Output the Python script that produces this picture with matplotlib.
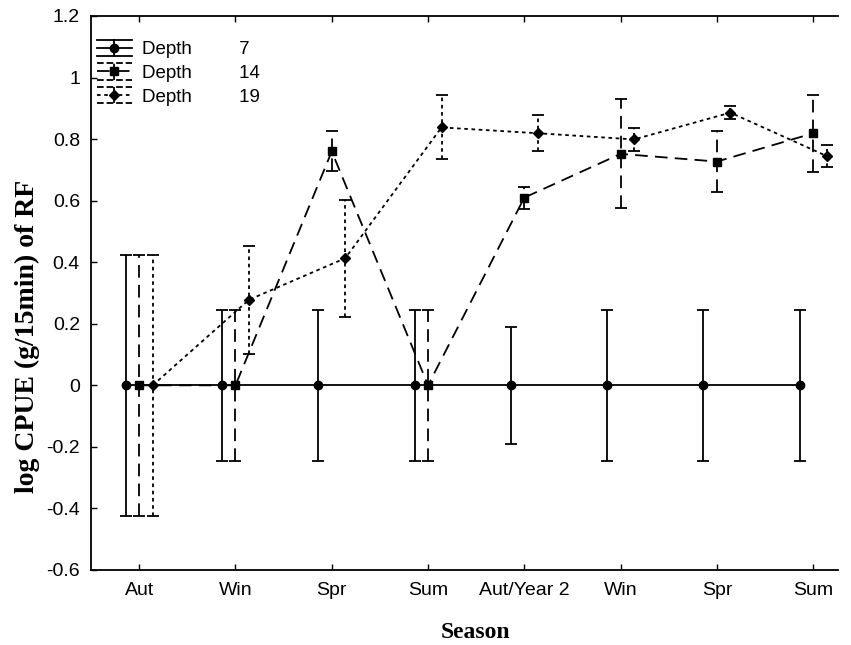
import numpy as np
import matplotlib
matplotlib.use("Agg")
import matplotlib.pyplot as plt
from matplotlib.lines import Line2D
from matplotlib.legend_handler import HandlerLine2D

plt.rcParams['font.family'] = ['Liberation Sans', 'DejaVu Sans']

seasons = ['Aut', 'Win', 'Spr', 'Sum', 'Aut/Year 2', 'Win', 'Spr', 'Sum']

# log CPUE means and error half-widths per depth
depth7 = [0, 0, 0, 0, 0, 0, 0, 0]
depth7_err = [0.425, 0.245, 0.245, 0.245, 0.19, 0.245, 0.245, 0.245]

depth14 = [0, 0, 0.76, 0, 0.61, 0.752, 0.727, 0.819]
depth14_err = [0.425, 0.245, 0.065, 0.245, 0.036, 0.177, 0.098, 0.125]

depth19 = [0, 0.278, 0.413, 0.838, 0.819, 0.799, 0.886, 0.745]
depth19_err = [0.425, 0.175, 0.19, 0.104, 0.058, 0.038, 0.022, 0.037]

depth_names = ['7', '14', '19']


class CappedHandler(HandlerLine2D):
    """Legend key drawn as a line with a vertical bar and full-width caps."""
    def create_artists(self, legend, orig_handle, xdescent, ydescent,
                       width, height, fontsize, trans):
        arts = super().create_artists(legend, orig_handle, xdescent, ydescent,
                                      width, height, fontsize, trans)
        ls = orig_handle.get_linestyle()
        yc = height / 2 - ydescent
        h = height * 0.62
        x0, x1 = -xdescent, -xdescent + width
        xm = (x0 + x1) / 2
        extra = [
            Line2D([x0, x1], [yc + h, yc + h]),
            Line2D([x0, x1], [yc - h, yc - h]),
            Line2D([xm, xm], [yc - h, yc + h]),
        ]
        for ln in extra:
            ln.set_color('black')
            ln.set_linewidth(1.3)
            ln.set_linestyle(ls)
            ln.set_transform(trans)
        return extra + arts


x = np.arange(len(seasons))

fig = plt.figure(figsize=(8.51, 6.45), dpi=100)
ax = fig.add_axes([0.107, 0.1163, 0.878, 0.8589])

series = [
    (depth7, depth7_err, -0.14, '-', 'o', 6),
    (depth14, depth14_err, 0.0, (0, (7, 4)), 's', 5.8),
    (depth19, depth19_err, 0.14, (0, (2, 2)), 'D', 4.6),
]

handles = []
for (vals, errs, off, ls, mk, ms), name in zip(series, depth_names):
    eb = ax.errorbar(x + off, vals, yerr=errs, color='black', linestyle=ls,
                     linewidth=1.3, marker=mk, markersize=ms, capsize=4,
                     capthick=1.3, elinewidth=1.3)
    eb[2][0].set_linestyle(ls)
    handles.append(Line2D([], [], color='black', linestyle=ls, linewidth=1.3,
                          marker=mk, markersize=ms,
                          label='Depth' + ' ' * 9 + name))

ax.set_xlim(-0.5, 7.26)
ax.set_ylim(-0.6, 1.2)
ax.set_xticks(x)
ax.set_xticklabels(seasons)
ax.set_yticks(np.arange(-0.6, 1.21, 0.2))
ax.set_yticklabels(['-0.6', '-0.4', '-0.2', '0', '0.2', '0.4', '0.6', '0.8', '1', '1.2'])
ax.tick_params(direction='in', length=4, width=1, labelsize=14, top=True, pad=8)
ax.tick_params(axis='x', pad=9)
ax.spines['right'].set_visible(False)
for s in ['left', 'bottom', 'top']:
    ax.spines[s].set_linewidth(1.3)

ax.set_xlabel('Season', family='Liberation Serif', fontweight='bold', fontsize=17)
ax.set_ylabel('log CPUE (g/15min) of RF', family='Liberation Serif', fontweight='bold',
              fontsize=20)
ax.xaxis.set_label_coords(0.514, -0.094)
ax.yaxis.set_label_coords(-0.068, 0.422)

ax.legend(handles=handles, loc='upper left', frameon=False, fontsize=13.5,
          handlelength=1.85, handletextpad=0.55, labelspacing=0.35,
          borderaxespad=0, bbox_to_anchor=(-0.002, 0.968),
          handler_map={Line2D: CappedHandler()})

fig.savefig('out.png', dpi=100)
